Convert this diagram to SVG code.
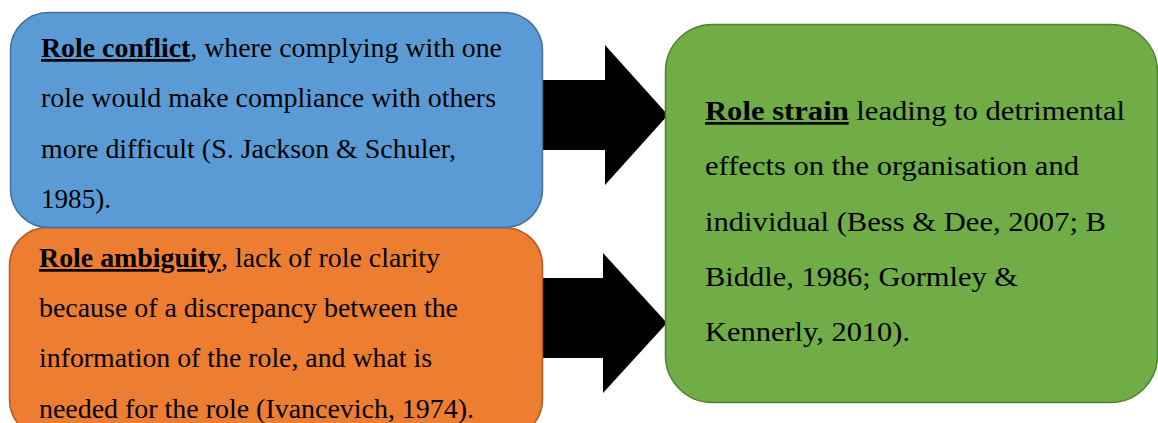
<svg xmlns="http://www.w3.org/2000/svg" width="1158" height="423" viewBox="0 0 1158 423">
<style>
.t{font-family:"Liberation Serif","Times New Roman",serif;font-size:27px;fill:#000}
.b{font-weight:bold;text-decoration:underline}
.arrow{fill:#000}
</style>
<rect width="1158" height="423" fill="#fff"/>
<g id="connectors">
<path class="arrow" d="M530,80 H605 V45 L668,115 L605,185 V150 H530 Z"/>
<path class="arrow" d="M530,278 H603 V253 L667,323 L603,393 V358 H530 Z"/>
</g>
<g id="node-ambiguity">
<rect x="9.5" y="227.5" width="533" height="210" rx="38" fill="#ED7D31" stroke="#AE5A21" stroke-width="1.5"/>
<text class="t" x="39" y="267" textLength="401" lengthAdjust="spacingAndGlyphs"><tspan class="b">Role ambiguity</tspan>, lack of role clarity</text>
<text class="t" x="39" y="317" textLength="419" lengthAdjust="spacingAndGlyphs">because of a discrepancy between the</text>
<text class="t" x="39" y="367" textLength="393" lengthAdjust="spacingAndGlyphs">information of the role, and what is</text>
<text class="t" x="39" y="418" textLength="435" lengthAdjust="spacingAndGlyphs">needed for the role (Ivancevich, 1974).</text>
</g>
<g id="node-conflict">
<rect x="10.5" y="12.5" width="532" height="215" rx="38" fill="#5B9BD5" stroke="#41719C" stroke-width="1.5"/>
<text class="t" x="41" y="57" textLength="461" lengthAdjust="spacingAndGlyphs"><tspan class="b">Role conflict</tspan>, where complying with one</text>
<text class="t" x="41" y="107" textLength="455" lengthAdjust="spacingAndGlyphs">role would make compliance with others</text>
<text class="t" x="41" y="158" textLength="415" lengthAdjust="spacingAndGlyphs">more difficult (S. Jackson &amp; Schuler,</text>
<text class="t" x="41" y="208" textLength="70" lengthAdjust="spacingAndGlyphs">1985).</text>
</g>
<g id="node-strain">
<rect x="665.5" y="24.5" width="492" height="378" rx="47" fill="#70AD47" stroke="#507E32" stroke-width="1.5"/>
<text class="t" x="705" y="120" textLength="420" lengthAdjust="spacingAndGlyphs"><tspan class="b">Role strain</tspan> leading to detrimental</text>
<text class="t" x="705" y="175" textLength="374" lengthAdjust="spacingAndGlyphs">effects on the organisation and</text>
<text class="t" x="705" y="231" textLength="401" lengthAdjust="spacingAndGlyphs">individual (Bess &amp; Dee, 2007; B</text>
<text class="t" x="705" y="286" textLength="313" lengthAdjust="spacingAndGlyphs">Biddle, 1986; Gormley &amp;</text>
<text class="t" x="705" y="341" textLength="205" lengthAdjust="spacingAndGlyphs">Kennerly, 2010).</text>
</g>
</svg>
